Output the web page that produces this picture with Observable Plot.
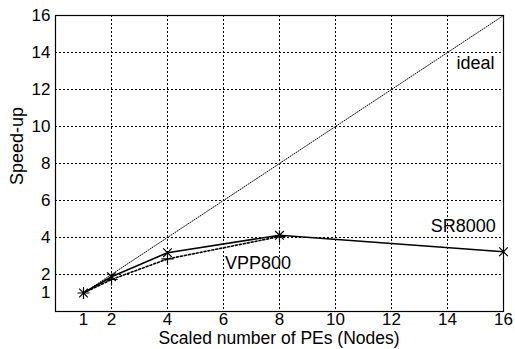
<!DOCTYPE html>
<html><head><meta charset="utf-8">
<script src="https://cdn.jsdelivr.net/npm/d3@7"></script>
<script src="https://cdn.jsdelivr.net/npm/@observablehq/plot@0.6"></script>
<style>
body{margin:0;background:#fff;}
</style></head><body><div id="c"></div>
<script>
const nodes = [1, 2, 4, 8, 16];
const sr8000 = [1.0, 1.88, 3.18, 4.12, 3.23];
const vppNodes = [1, 2, 4, 8];
const vpp800 = [1.0, 1.73, 2.84, 4.05];
const idealNodes = [1, 16];
const idealVals = [1, 16];
const xTicks = [1, 2, 4, 6, 8, 10, 12, 14, 16];
const yTicks = [1, 2, 4, 6, 8, 10, 12, 14, 16];
const gridX = [2, 4, 6, 8, 10, 12, 14];
const gridY = [2, 4, 6, 8, 10, 12, 14];

const sr = nodes.map((n, i) => ({x: n, y: sr8000[i]}));
const vpp = vppNodes.map((n, i) => ({x: n, y: vpp800[i]}));
const ideal = idealNodes.map((n, i) => ({x: n, y: idealVals[i]}));
const dash = {stroke: "black", strokeWidth: 1, strokeDasharray: "2 2", strokeOpacity: 1};

const chart = Plot.plot({
  width: 515, height: 349,
  marginLeft: 55, marginRight: 12, marginTop: 15, marginBottom: 38,
  style: {fontFamily: "'Liberation Sans', Arial, sans-serif", fontSize: "17px", color: "#000"},
  x: {domain: [0, 16], label: null},
  y: {domain: [0, 16], label: null},
  marks: [
    Plot.ruleX(gridX, dash),
    Plot.ruleY(gridY, dash),
    Plot.axisX(xTicks, {tickSize: 0, tickPadding: 1, label: null}),
    Plot.axisY(yTicks, {tickSize: 0, tickPadding: 5, label: null}),
    Plot.line(ideal, {x: "x", y: "y", stroke: "#000", strokeWidth: 1, strokeDasharray: "1,1.5"}),
    Plot.line(vpp, {x: "x", y: "y", stroke: "#000", strokeWidth: 1.6, strokeDasharray: "2,2"}),
    Plot.line(sr, {x: "x", y: "y", stroke: "#000", strokeWidth: 1.6}),
    Plot.dot(sr, {x: "x", y: "y", symbol: "times", r: 4, stroke: "#000", strokeWidth: 1.2}),
    Plot.dot(vpp, {x: "x", y: "y", symbol: "plus", r: 4, stroke: "#000", strokeWidth: 1.2}),
    Plot.frame({stroke: "#000", strokeWidth: 1.2}),
    Plot.text(["ideal"], {x: 14.32, y: 13.4, textAnchor: "start", fill: "#000", fontSize: 18}),
    Plot.text(["SR8000"], {x: 13.4, y: 4.6, textAnchor: "start", fill: "#000", fontSize: 18}),
    Plot.text(["VPP800"], {x: 6.05, y: 2.6, textAnchor: "start", fill: "#000", fontSize: 18})
  ]
});
const svg = d3.select(chart);
const xs = chart.scale("x"), ys = chart.scale("y");
const g = svg.insert("g", ":first-child").attr("stroke", "black").attr("stroke-width", 1)
  .attr("stroke-dasharray", "2 2").attr("fill", "none");
gridX.forEach(v => {
  const px = Math.round(xs.apply(v)) + 0.5;
  g.append("line").attr("x1", px).attr("x2", px).attr("y1", ys.apply(16)).attr("y2", ys.apply(0));
});
gridY.forEach(v => {
  const py = Math.round(ys.apply(v)) + 0.5;
  g.append("line").attr("y1", py).attr("y2", py).attr("x1", xs.apply(0)).attr("x2", xs.apply(16));
});
svg.append("text").attr("transform", "translate(18,146) rotate(-90)")
  .attr("text-anchor", "middle").attr("dominant-baseline", "middle")
  .attr("font-size", 18).attr("fill", "#000").text("Speed-up");
svg.append("text").attr("x", 279).attr("y", 339)
  .attr("text-anchor", "middle").attr("dominant-baseline", "middle")
  .attr("font-size", 17.5).attr("fill", "#000").text("Scaled number of PEs (Nodes)");
document.getElementById("c").appendChild(chart);
</script></body></html>
